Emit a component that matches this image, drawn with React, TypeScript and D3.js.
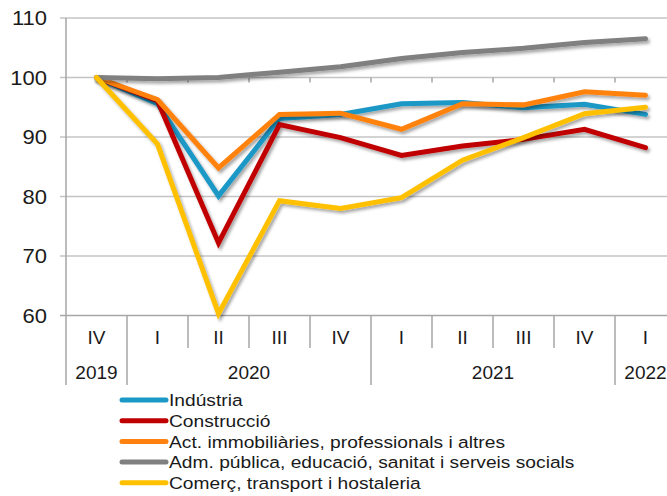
import React from 'react';
import { scaleBand, scaleLinear, line } from 'd3';

const quarters = ['IV', 'I', 'II', 'III', 'IV', 'I', 'II', 'III', 'IV', 'I'];
const years = ['2019', '2020', '2021', '2022'];
const yearSpans = [1, 4, 4, 1];
const yTicks = [60, 70, 80, 90, 100, 110];

const seriesNames = [
  'Indústria',
  'Construcció',
  'Act. immobiliàries, professionals i altres',
  'Adm. pública, educació, sanitat i serveis socials',
  'Comerç, transport i hostaleria',
];
const seriesColors = ['#1b98c6', '#c00000', '#ff8210', '#808080', '#ffc000'];

const industria = [100, 95.6, 80.1, 93.1, 93.8, 95.6, 95.8, 94.9, 95.5, 93.8];
const construccio = [100, 96.1, 72.2, 92.1, 89.9, 86.9, 88.5, 89.6, 91.3, 88.2];
const immobiliaries = [100, 96.3, 84.8, 93.8, 94.0, 91.3, 95.6, 95.4, 97.6, 97.0];
const admPublica = [100, 99.8, 100.0, 100.9, 101.8, 103.2, 104.2, 104.9, 105.9, 106.5];
const comerc = [100, 88.8, 60.3, 79.3, 78.0, 79.8, 86.1, 89.9, 93.9, 95.0];

const seriesValues = [industria, construccio, immobiliaries, admPublica, comerc];

const W = 667;
const H = 496;
const left = 66;
const bottom = 315.5;
const top = 18;
const font = '"Liberation Sans", Arial, sans-serif';

// text stretched horizontally a bit, like the source image
function WideText({ x, y, sx, anchor, size, children }: any) {
  return (
    <g transform={`translate(${x},${y}) scale(${sx},1)`}>
      <text dy="0.36em" textAnchor={anchor} fontSize={size} fill="#1a1a1a">
        {children}
      </text>
    </g>
  );
}

export default function App() {
  const idx = quarters.map((_, i) => i);
  const x = scaleBand<number>().domain(idx).range([left, left + 61 * quarters.length]);
  const y = scaleLinear().domain([60, 110]).range([bottom, top]);
  const bw = x.bandwidth();

  const path = line<number>()
    .x((_, i) => (x(i) as number) + bw / 2)
    .y((d) => y(d));

  // year boundaries
  let acc = 0;
  const yearBlocks = years.map((yr, k) => {
    const start = acc;
    acc += yearSpans[k];
    return { yr, start, end: acc };
  });

  const legendX = 120;
  const legendY0 = 400;
  const legendStep = 20.7;

  return (
    <svg width={W} height={H} style={{ position: 'absolute', left: 0, top: 0 }} fontFamily={font}>
      <defs>
        <filter id="shadow" x="-10%" y="-10%" width="120%" height="130%">
          <feDropShadow dx="2" dy="2.5" stdDeviation="1.5" floodColor="#000" floodOpacity="0.35" />
        </filter>
      </defs>
      <rect width={W} height={H} fill="#fff" />

      {/* gridlines */}
      {yTicks.map((t) => (
        <g key={t}>
          <line x1={left - 6} x2={W} y1={y(t)} y2={y(t)} stroke={t === 60 ? '#a6a6a6' : '#c4c4c4'} strokeWidth={1.5} />
          <WideText x={47} y={y(t)} sx={1.1} anchor="end" size={20}>
            {t}
          </WideText>
        </g>
      ))}

      {/* y axis */}
      <line x1={left} x2={left} y1={top} y2={385} stroke="#a6a6a6" strokeWidth={1.5} />

      {/* category ticks on the 100 line */}
      {idx.slice(1).map((i) => (
        <line key={'t' + i} x1={x(i)} x2={x(i)} y1={y(100)} y2={y(100) + 5} stroke="#a6a6a6" strokeWidth={1.5} />
      ))}

      {/* quarter separators */}
      {idx.slice(1).map((i) => {
        const isYear = yearBlocks.some((b) => b.start === i);
        return (
          <line key={'s' + i} x1={x(i)} x2={x(i)} y1={bottom} y2={isYear ? 385 : 348} stroke="#a6a6a6" strokeWidth={1.5} />
        );
      })}

      {quarters.map((q, i) => (
        <text key={'q' + i} x={(x(i) as number) + bw / 2} y={337} dy="0.36em" textAnchor="middle" fontSize={19} fill="#1a1a1a">
          {q}
        </text>
      ))}

      {yearBlocks.map((b) => (
        <text
          key={b.yr}
          x={((x(b.start) as number) + (x(b.end - 1) as number) + bw) / 2}
          y={372}
          dy="0.36em"
          textAnchor="middle"
          fontSize={19}
          fill="#1a1a1a"
        >
          {b.yr}
        </text>
      ))}

      {/* series lines */}
      {seriesValues.map((vals, s) => (
        <path
          key={seriesNames[s]}
          d={path(vals) || ''}
          fill="none"
          stroke={seriesColors[s]}
          strokeWidth={5}
          strokeLinecap="round"
          strokeLinejoin="miter"
          filter="url(#shadow)"
        />
      ))}

      {/* legend */}
      {seriesNames.map((name, s) => {
        const ly = legendY0 + s * legendStep;
        return (
          <g key={'l' + s}>
            <line x1={legendX + 2} x2={legendX + 46} y1={ly} y2={ly} stroke={seriesColors[s]} strokeWidth={5} strokeLinecap="round" />
            <WideText x={legendX + 49} y={ly} sx={1.13} anchor="start" size={17}>
              {name}
            </WideText>
          </g>
        );
      })}
    </svg>
  );
}
